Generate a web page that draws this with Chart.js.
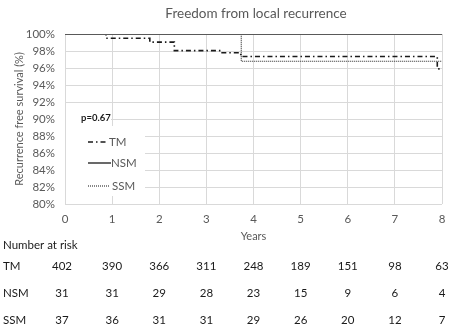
<!DOCTYPE html>
<html>
<head>
<meta charset="utf-8">
<script src="https://cdn.jsdelivr.net/npm/chart.js@4.4.1/dist/chart.umd.min.js"></script>
<style>
  html, body { margin: 0; padding: 0; background: #fff; }
  #wrap { position: relative; width: 457px; height: 331px; }
</style>
</head>
<body>
<div id="wrap"><canvas id="km" width="457" height="331"></canvas></div>
<script>
// Kaplan-Meier estimates: [years, survival %]
const tmCurve  = [[0, 100], [0.87, 99.5], [1.8, 99.05], [2.32, 98.05], [3.3, 97.8], [3.73, 97.35], [7.9, 95.9], [8, 95.9]];
const nsmCurve = [[0, 100], [8, 100]];
const ssmCurve = [[0, 100], [3.74, 96.8], [8, 96.8]];

const yearTicks = [0, 1, 2, 3, 4, 5, 6, 7, 8];
const groups = ['TM', 'NSM', 'SSM'];
const atRiskTM  = [402, 390, 366, 311, 248, 189, 151, 98, 63];
const atRiskNSM = [31, 31, 29, 28, 23, 15, 9, 6, 4];
const atRiskSSM = [37, 36, 31, 31, 29, 26, 20, 12, 7];
const atRisk = [atRiskTM, atRiskNSM, atRiskSSM];

const pValueText = 'p=0.67';
const FONT = 'Lato, "Open Sans", sans-serif';
const GREY = '#595959';

const toPoints = c => c.map(([x, y]) => ({ x, y }));

const lineStyles = {
  TM:  { color: '#1a1a1a', width: 1.6, dash: [5, 3, 1.5, 3] },
  NSM: { color: '#595959', width: 1.8, dash: [] },
  SSM: { color: '#262626', width: 1.1, dash: [1, 1] }
};

// Title, in-plot legend, p-value and number-at-risk table
const extras = {
  id: 'extras',
  afterDraw(chart) {
    const { ctx, chartArea, scales } = chart;
    ctx.save();
    ctx.textBaseline = 'middle';

    // title
    ctx.fillStyle = GREY;
    ctx.font = '13.5px ' + FONT;
    ctx.textAlign = 'center';
    ctx.fillText('Freedom from local recurrence', 256, 14);

    // p-value box
    ctx.fillStyle = '#fff';
    ctx.fillRect(chartArea.left + 1, 110, 45, 14);
    ctx.fillStyle = '#1a1a1a';
    ctx.font = 'bold 9.5px ' + FONT;
    ctx.textAlign = 'left';
    ctx.fillText(pValueText, 81, 118);

    // legend box
    ctx.fillStyle = '#fff';
    ctx.fillRect(chartArea.left + 1, 126, 79, 70);
    const rows = [
      { name: 'TM',  y: 142, x0: 88, x1: 106, tx: 109 },
      { name: 'NSM', y: 163, x0: 88, x1: 111, tx: 111 },
      { name: 'SSM', y: 186, x0: 88, x1: 110, tx: 112 }
    ];
    rows.forEach(r => {
      const s = lineStyles[r.name];
      ctx.beginPath();
      ctx.strokeStyle = s.color;
      ctx.lineWidth = s.width;
      ctx.setLineDash(s.dash);
      ctx.moveTo(r.x0, r.y);
      ctx.lineTo(r.x1, r.y);
      ctx.stroke();
      ctx.setLineDash([]);
      ctx.fillStyle = GREY;
      ctx.font = '11.5px ' + FONT;
      ctx.fillText(r.name, r.tx, r.y + 0.5);
    });

    // number at risk
    ctx.fillStyle = '#1a1a1a';
    ctx.font = '11.5px ' + FONT;
    ctx.textAlign = 'left';
    ctx.fillText('Number at risk', 3, 245);
    const rowY = [266, 293, 320];
    groups.forEach((g, i) => {
      ctx.textAlign = 'left';
      ctx.fillText(g, 3, rowY[i]);
      ctx.textAlign = 'center';
      atRisk[i].forEach((v, j) => {
        let x = scales.x.getPixelForValue(yearTicks[j]);
        if (j === 0) x = Math.max(x - 3, 0);
        ctx.fillText(String(v), x, rowY[i]);
      });
    });
    ctx.restore();
  }
};

const mkSet = (name, curve) => ({
  label: name,
  data: toPoints(curve),
  stepped: 'before',
  borderColor: lineStyles[name].color,
  borderWidth: lineStyles[name].width,
  borderDash: lineStyles[name].dash,
  pointRadius: 0,
  fill: false,
  tension: 0
});

new Chart(document.getElementById('km'), {
  type: 'line',
  data: {
    datasets: [mkSet('NSM', nsmCurve), mkSet('SSM', ssmCurve), mkSet('TM', tmCurve)]
  },
  options: {
    responsive: false,
    animation: false,
    events: [],
    layout: { padding: { top: 34, right: 15, bottom: 87, left: 0 } },
    plugins: { legend: { display: false }, tooltip: { enabled: false } },
    scales: {
      x: {
        type: 'linear',
        min: 0, max: 8,
        afterFit: s => { s.height = 40; },
        afterBuildTicks: s => { s.ticks = yearTicks.map(v => ({ value: v })); },
        grid: { color: '#d9d9d9', drawTicks: false },
        border: { display: false },
        ticks: { color: GREY, font: { family: FONT, size: 11.5 }, padding: 8 },
        title: { display: true, text: 'Years', color: GREY, font: { family: FONT, size: 11 }, padding: { top: 0, bottom: 1 } }
      },
      y: {
        min: 80, max: 100,
        afterFit: s => { s.width = 65; },
        grid: { color: '#d9d9d9', drawTicks: false },
        border: { display: false },
        ticks: { stepSize: 2, color: GREY, font: { family: FONT, size: 11.5 }, padding: 10, callback: v => v + '%' },
        title: { display: true, text: 'Recurrence free survival (%)', color: GREY, font: { family: FONT, size: 11 }, padding: { top: 13, bottom: 0 } }
      }
    }
  },
  plugins: [extras]
});
</script>
</body>
</html>
